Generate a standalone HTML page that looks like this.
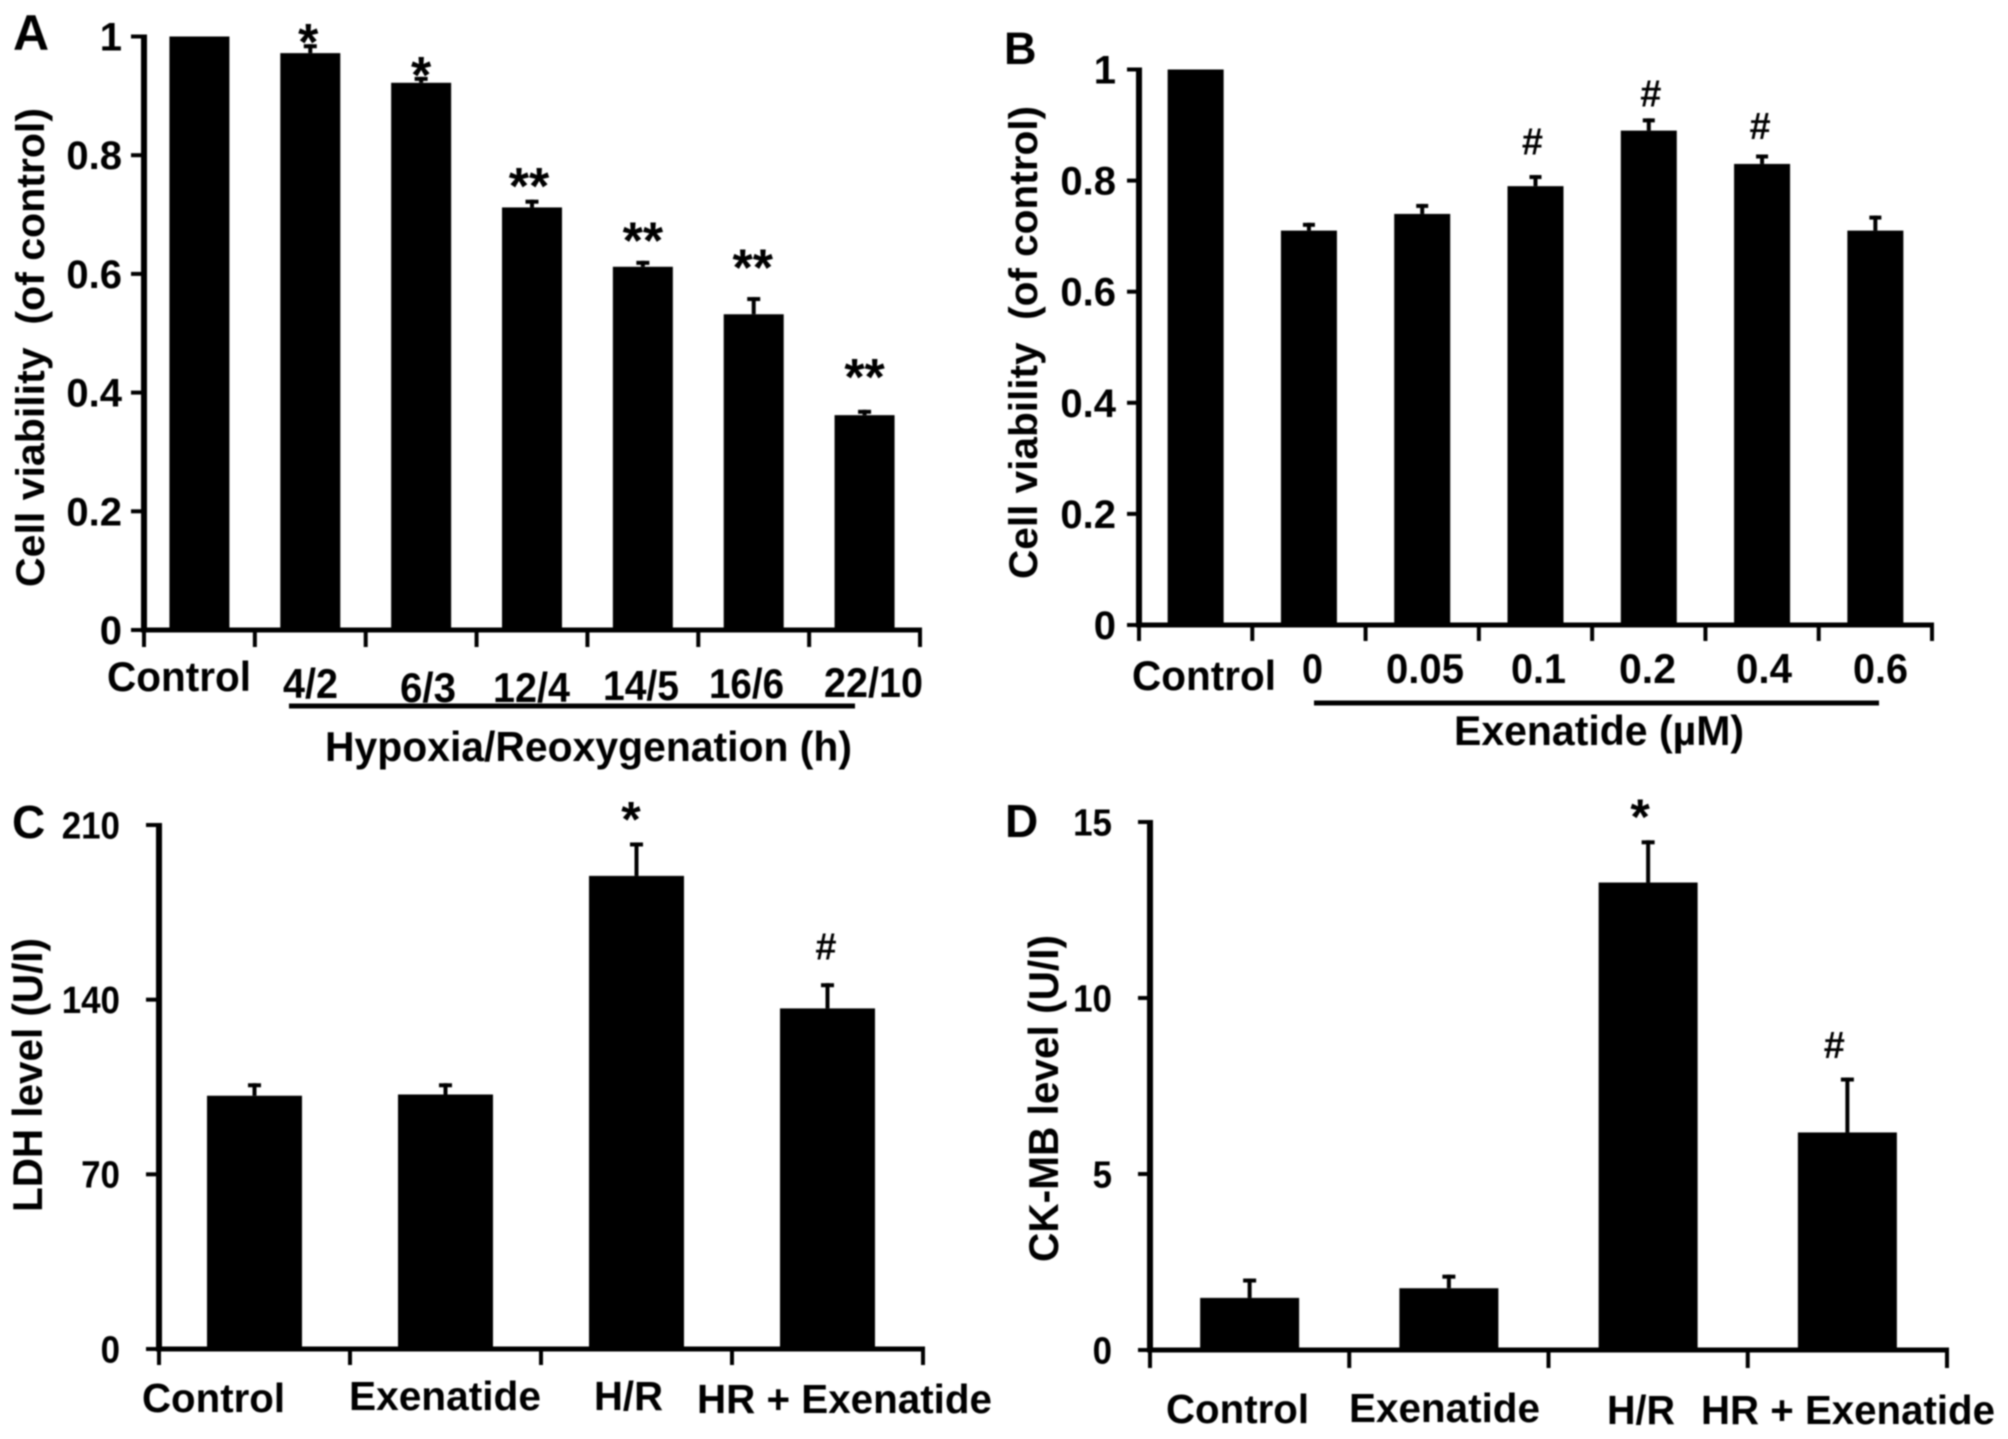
<!DOCTYPE html>
<html lang="en">
<head>
<meta charset="utf-8">
<title>Cell viability, LDH and CK-MB bar charts</title>
<style>
html,body{margin:0;padding:0;background:#fff;}
svg{display:block;}
text{font-family:"Liberation Sans",sans-serif;font-weight:700;fill:#000;}
</style>
</head>
<body>
<svg id="figure" xmlns="http://www.w3.org/2000/svg" width="2008" height="1439" viewBox="0 0 2008 1439">
<defs><filter id="soft" x="-2%" y="-2%" width="104%" height="104%"><feGaussianBlur stdDeviation="0.8"/></filter></defs>
<rect x="0" y="0" width="2008" height="1439" fill="#fff"/>
<g id="root" filter="url(#soft)"></g>
</svg>
<script>
// ---- Panel A data ----
const aCategories = ["Control","4/2","6/3","12/4","14/5","16/6","22/10"];
const aValues = [1,0.972,0.922,0.712,0.612,0.532,0.362];
const aErrors = [0,0.015,0.01,0.013,0.01,0.029,0.009];
const aSignificance = ["","*","*","**","**","**","**"];
const aTickLabels = ["0","0.2","0.4","0.6","0.8","1"];
// ---- Panel B data ----
const bCategories = ["Control","0","0.05","0.1","0.2","0.4","0.6"];
const bValues = [1,0.71,0.74,0.79,0.89,0.83,0.71];
const bErrors = [0,0.014,0.018,0.02,0.022,0.017,0.027];
const bSignificance = ["","","","#","#","#",""];
const bTickLabels = ["0","0.2","0.4","0.6","0.8","1"];
// ---- Panel C data ----
const cCategories = ["Control","Exenatide","H/R","HR + Exenatide"];
const cValues = [101.5,102,189.6,136.5];
const cErrors = [5,4.5,13.4,10.1];
const cSignificance = ["","","*","#"];
const cTickLabels = ["0","70","140","210"];
// ---- Panel D data ----
const dCategories = ["Control","Exenatide","H/R","HR + Exenatide"];
const dValues = [1.48,1.755,13.28,6.18];
const dErrors = [0.55,0.385,1.2,1.56];
const dSignificance = ["","","*","#"];
const dTickLabels = ["0","5","10","15"];

// ---- Layout (separate from the data above) ----
const panelLayouts = {
  A:{letter:"A",letterX:13,letterY:50,letterFs:50,
     axisX:144,axisEnd:920,yTop:36.5,yZero:630,tickBottom:647,leftTick:131,
     barW:60,stem:4,capW:13,
     tickFs:40,tickSx:1,tickRight:122,
     yTitle:"Cell viability\u00a0 (of control)",yTitleX:44,yTitleBottom:587,yTitleLen:479,yTitleFs:40,
     catFs:42,
     catBoxes:[[107,691,144],[283,698,55],[400,702,56],[493,702,77],[603,700,76],[709,698,75],[824,697,99]],
     sigGaps:[0,10,10,21.5,28.5,37.5,41],sigFs:[0,52,52,52,52,52,52],sigDx:[0,-2,0,-3,0,-1,0],
     bracket:[289,855,706],
     title:"Hypoxia/Reoxygenation (h)",titleBox:[325,761,527],titleFs:42},
  B:{letter:"B",letterX:1004,letterY:64,letterFs:45,
     axisX:1139,axisEnd:1932,yTop:69.5,yZero:625,tickBottom:641,leftTick:1127,
     barW:56,stem:4,capW:12,
     tickFs:40,tickSx:1,tickRight:1116,
     yTitle:"Cell viability\u00a0 (of control)",yTitleX:1037,yTitleBottom:579,yTitleLen:473,yTitleFs:40,
     catFs:42,
     catBoxes:[[1132,690,144],[1302,683,21],[1386,683,78],[1511,683,55],[1619,683,57],[1736,683,56],[1853,683,55]],
     sigGaps:[0,0,0,34,25,29,0],sigFs:[0,0,0,38,38,38,0],sigDx:[0,0,0,-3,2,-2,0],
     bracket:[1314,1879,703],
     title:"Exenatide (\u00b5M)",titleBox:[1454,745,290],titleFs:42},
  C:{letter:"C",letterX:12,letterY:838,letterFs:46,
     axisX:159,axisEnd:923,yTop:825,yZero:1349,tickBottom:1365,leftTick:146,
     barW:95,stem:4,capW:13,
     tickFs:38,tickSx:0.92,tickRight:120,
     yTitle:"LDH level (U/I)",yTitleX:42,yTitleBottom:1212,yTitleLen:274,yTitleFs:42,
     catFs:41,
     catBoxes:[[142,1412,143],[349,1410,192],[594,1410,69],[697,1413,295]],
     sigGaps:[0,0,31,37],sigFs:[0,0,50,38],sigDx:[0,0,-5.5,-1.5],
     bracket:null,title:null},
  D:{letter:"D",letterX:1005,letterY:837,letterFs:46,
     axisX:1150,axisEnd:1947,yTop:822,yZero:1350,tickBottom:1368,leftTick:1138,
     barW:99,stem:4,capW:13,
     tickFs:38,tickSx:0.92,tickRight:1112,
     yTitle:"CK-MB level (U/I)",yTitleX:1058,yTitleBottom:1262,yTitleLen:327,yTitleFs:42,
     catFs:41,
     catBoxes:[[1166,1423,143],[1349,1422,191],[1607,1424,68],[1701,1424,294]],
     sigGaps:[0,0,31.5,33],sigFs:[0,0,50,38],sigDx:[0,0,-8,-13],
     bracket:null,title:null}
};

const NS = "http://www.w3.org/2000/svg";
const root = document.getElementById("root");

function rect(parent,x,y,w,h){
  const r = document.createElementNS(NS,"rect");
  r.setAttribute("x",x.toFixed(2));
  r.setAttribute("y",y.toFixed(2));
  r.setAttribute("width",w.toFixed(2));
  r.setAttribute("height",h.toFixed(2));
  r.setAttribute("fill","#000");
  parent.appendChild(r);
  return r;
}
function label(parent,str,x,y,fs){
  const t = document.createElementNS(NS,"text");
  t.setAttribute("x",x.toFixed(2));
  t.setAttribute("y",y.toFixed(2));
  t.setAttribute("font-size",fs);
  t.textContent = str;
  parent.appendChild(t);
  return t;
}
function fit(t,len){
  t.setAttribute("textLength",len);
  t.setAttribute("lengthAdjust","spacingAndGlyphs");
}

function drawPanel(id,categories,values,errors,significance,tickLabels,L){
  const g = document.createElementNS(NS,"g");
  
  
  root.appendChild(g);

  const ticks = tickLabels.map(Number);
  const maxV = Math.max.apply(null,ticks);
  const step = (L.axisEnd-L.axisX)/categories.length;
  const xScale = i => L.axisX+(i+0.5)*step;
  const yScale = v => L.yZero-(v/maxV)*(L.yZero-L.yTop);

  const letter = label(g,L.letter,L.letterX,L.letterY,L.letterFs);
  
  

  // bars and error bars
  values.forEach((v,i)=>{
    const cx = xScale(i);
    const bar = rect(g,cx-L.barW/2,yScale(v),L.barW,L.yZero-yScale(v));
    
    
    if(errors[i]>0){
      const top = yScale(v+errors[i]);
      const stem = rect(g,cx-L.stem/2,top,L.stem,yScale(v)-top);
      
      
      const cap = rect(g,cx-L.capW/2,top,L.capW,4);
      
      
    }
    if(significance[i]){
      const fs = L.sigFs[i];
      const isStar = significance[i].charAt(0)==="*";
      const centerY = yScale(v+errors[i])-L.sigGaps[i];
      const baseY = centerY+(isStar?0.5:0.35)*fs;
      const s = label(g,significance[i],cx+L.sigDx[i],baseY,fs);
      s.setAttribute("text-anchor","middle");
      
      
    }
  });

  // y axis
  const yLine = rect(g,L.axisX-3,L.yTop-2,6,L.yZero-L.yTop+4);
  
  
  tickLabels.forEach((tl)=>{
    const v = Number(tl);
    const y = yScale(v);
    const mark = rect(g,L.leftTick,y-2,L.axisX-L.leftTick,4);
    
    
    const t = label(g,tl,L.tickRight,y+0.35*L.tickFs,L.tickFs);
    t.setAttribute("text-anchor","end");
    
    
    if(L.tickSx!==1){
      fit(t,(t.getComputedTextLength()*L.tickSx).toFixed(1));
    }
  });

  // x axis
  const xLine = rect(g,L.axisX-3,L.yZero-2.5,L.axisEnd-L.axisX+5,5);
  
  
  for(let i=0;i<=categories.length;i++){
    const tx = L.axisX+i*step;
    const mark = rect(g,tx-2,L.yZero,4,L.tickBottom-L.yZero);
    
    
  }

  // category labels
  categories.forEach((c,i)=>{
    const box = L.catBoxes[i];
    const t = label(g,c,box[0],box[1],L.catFs);
    fit(t,box[2]);
    
    
  });

  // y title
  const yt = label(g,L.yTitle,0,0,L.yTitleFs);
  yt.setAttribute("transform","translate("+L.yTitleX+" "+L.yTitleBottom+") rotate(-90)");
  fit(yt,L.yTitleLen);
  
  

  // bracket + x title
  if(L.bracket){
    const br = rect(g,L.bracket[0],L.bracket[2]-2.5,L.bracket[1]-L.bracket[0],5);
    
    
  }
  if(L.title){
    const xt = label(g,L.title,L.titleBox[0],L.titleBox[1],L.titleFs);
    fit(xt,L.titleBox[2]);
    
    
  }
}

drawPanel("A",aCategories,aValues,aErrors,aSignificance,aTickLabels,panelLayouts.A);
drawPanel("B",bCategories,bValues,bErrors,bSignificance,bTickLabels,panelLayouts.B);
drawPanel("C",cCategories,cValues,cErrors,cSignificance,cTickLabels,panelLayouts.C);
drawPanel("D",dCategories,dValues,dErrors,dSignificance,dTickLabels,panelLayouts.D);
</script>
</body>
</html>
